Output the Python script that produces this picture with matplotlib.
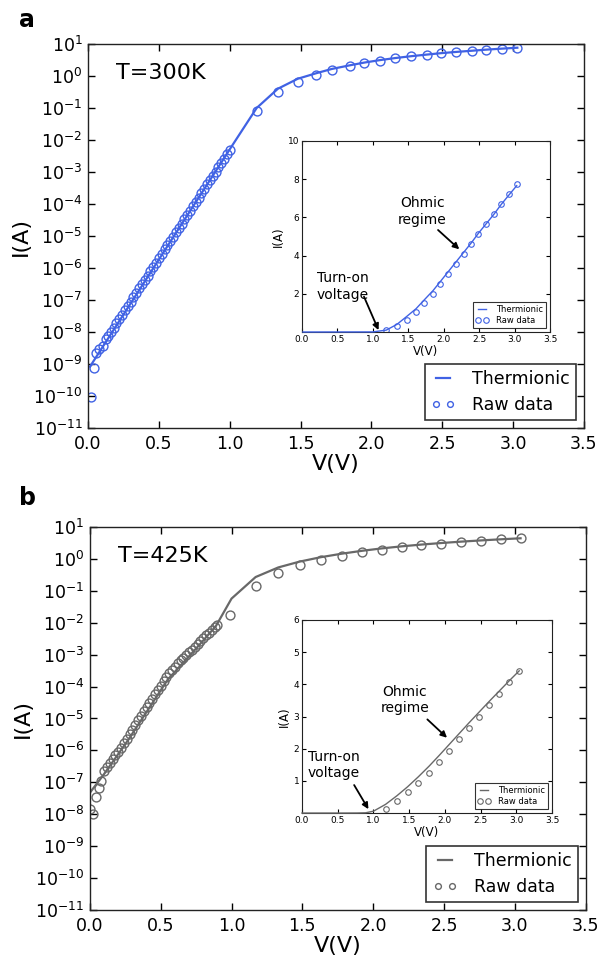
import numpy as np
import matplotlib
matplotlib.use('Agg')
import matplotlib.pyplot as plt
from matplotlib.ticker import NullLocator, FixedLocator

plt.rcParams['font.family'] = ['DejaVu Sans']
plt.rcParams['xtick.direction'] = 'in'
plt.rcParams['ytick.direction'] = 'in'
plt.rcParams['xtick.top'] = True
plt.rcParams['ytick.right'] = True
plt.rcParams['axes.linewidth'] = 1.0
plt.rcParams['axes.edgecolor'] = '#222222'

blue = '#4062e4'
gray = '#686868'

# ---- panel a, T=300K (raw data: V, log10 I) ----
v_raw_a = [0.02, 0.04, 0.054, 0.078, 0.108, 0.127,
           0.14, 0.16, 0.18, 0.20, 0.22, 0.24, 0.26, 0.28, 0.30, 0.32,
           0.34, 0.36, 0.38, 0.40, 0.42, 0.44, 0.46, 0.48, 0.50, 0.52,
           0.54, 0.56, 0.58, 0.60, 0.62, 0.64, 0.66, 0.68, 0.70, 0.72,
           0.74, 0.76, 0.78, 0.80, 0.82, 0.84, 0.86, 0.88, 0.90, 0.92,
           0.94, 0.96, 0.98, 1.00,
           1.19, 1.34, 1.48, 1.61, 1.72, 1.85, 1.95, 2.06, 2.17, 2.28,
           2.39, 2.49, 2.60, 2.71, 2.81, 2.92, 3.03]
log_raw_a = [-10.02, -9.12, -8.65, -8.52, -8.43, -8.22,
             -8.13, -7.99, -7.86, -7.73, -7.59, -7.46, -7.32, -7.18, -7.05, -6.91,
             -6.78, -6.64, -6.51, -6.37, -6.24, -6.10, -5.97, -5.83, -5.70, -5.56,
             -5.42, -5.29, -5.15, -5.02, -4.88, -4.75, -4.61, -4.48, -4.34, -4.21,
             -4.07, -3.94, -3.80, -3.66, -3.53, -3.39, -3.26, -3.12, -2.99, -2.85,
             -2.72, -2.58, -2.45, -2.30,
             -1.10, -0.51, -0.187, 0.029, 0.188, 0.303, 0.400, 0.480, 0.549, 0.613,
             0.662, 0.708, 0.751, 0.790, 0.825, 0.859, 0.888]
v_th_a = [0.014, 1.00, 1.19, 1.34, 1.48, 1.61, 1.72, 1.85, 1.95, 2.06,
          2.17, 2.28, 2.39, 2.49, 2.60, 2.71, 2.81, 2.92, 3.03]
i_th_a = [8.3e-10, 5.1e-3, 0.10, 0.40, 0.82, 1.22, 1.66, 2.17, 2.63, 3.14,
          3.65, 4.16, 4.67, 5.17, 5.67, 6.17, 6.67, 7.17, 7.66]

# ---- panel b, T=425K ----
v_raw_b = [0.0, 0.023, 0.04, 0.064, 0.078,
           0.10, 0.12, 0.14, 0.16, 0.18, 0.20, 0.22, 0.24, 0.26, 0.28,
           0.30, 0.32, 0.34, 0.36, 0.38, 0.40, 0.42, 0.44, 0.46, 0.48,
           0.50, 0.52, 0.54, 0.56, 0.58, 0.60, 0.62, 0.64, 0.66, 0.68,
           0.70, 0.72, 0.74, 0.76, 0.78, 0.80, 0.82, 0.84, 0.86, 0.88, 0.894,
           0.99,
           1.17, 1.33, 1.48, 1.63, 1.78, 1.92, 2.06, 2.20, 2.34, 2.48,
           2.62, 2.76, 2.90, 3.04]
log_raw_b = [-7.85, -8.00, -7.45, -7.19, -6.96,
             -6.66, -6.52, -6.39, -6.26, -6.15, -6.04, -5.91, -5.77, -5.64, -5.50,
             -5.35, -5.20, -5.05, -4.92, -4.78, -4.65, -4.51, -4.38, -4.24, -4.11,
             -3.97, -3.84, -3.70, -3.59, -3.48, -3.38, -3.27, -3.18, -3.09, -3.00,
             -2.92, -2.84, -2.76, -2.67, -2.58, -2.49, -2.40, -2.31, -2.22, -2.13, -2.07,
             -1.76,
             -0.854, -0.432, -0.194, -0.027, 0.100, 0.201, 0.288, 0.360, 0.423, 0.477,
             0.525, 0.569, 0.609, 0.645]
v_th_b = [0.0, 0.10, 0.27, 0.55, 0.77, 0.89, 1.00, 1.17, 1.33, 1.48, 1.63,
          1.78, 1.92, 2.06, 2.20, 2.34, 2.48, 2.62, 2.76, 2.90, 3.04]
i_th_b = [4.7e-8, 1.8e-7, 2.1e-6, 1.66e-4, 1.95e-3, 7.9e-3, 0.057, 0.27, 0.54,
          0.82, 1.13, 1.46, 1.79, 2.13, 2.47, 2.81, 3.14, 3.47, 3.79, 4.11, 4.42]

i_raw_a = [10 ** x for x in log_raw_a]
i_raw_b = [10 ** x for x in log_raw_b]

fig = plt.figure(figsize=(6.07, 9.59), dpi=100)
fig.patch.set_facecolor('white')


def main_panel(rect, v_raw, i_raw, v_th, i_th, color, temp):
    ax = fig.add_axes(rect)
    ax.plot(v_th, i_th, '-', color=color, lw=1.6, label='Thermionic')
    ax.plot(v_raw, i_raw, 'o', mfc='none', mec=color, mew=1.0, ms=6.4,
            label='Raw data')
    ax.set_yscale('log')
    ax.set_xlim(0, 3.5)
    ax.set_ylim(1e-11, 1e1)
    ax.yaxis.set_major_locator(FixedLocator([10.0 ** k for k in range(-11, 2)]))
    ax.yaxis.set_minor_locator(NullLocator())
    ax.set_xticks([0.0, 0.5, 1.0, 1.5, 2.0, 2.5, 3.0, 3.5])
    ax.set_xticklabels(['0.0', '0.5', '1.0', '1.5', '2.0', '2.5', '3.0', '3.5'])
    ax.tick_params(labelsize=12.5, length=5, width=1, pad=4)
    ax.tick_params(axis='x', pad=5)
    ax.set_xlabel('V(V)', fontsize=16, labelpad=1)
    ax.set_ylabel('I(A)', fontsize=16, labelpad=2)
    ax.text(0.056, 0.925, temp, transform=ax.transAxes, fontsize=16,
            va='center', ha='left')
    leg = ax.legend(loc='lower right', fontsize=12.5, numpoints=2,
                    handlelength=1.4, handletextpad=1.0, markerscale=0.65,
                    fancybox=False, borderaxespad=0.45, borderpad=0.35,
                    labelspacing=0.45)
    leg.get_frame().set_edgecolor('black')
    leg.get_frame().set_linewidth(1.2)
    return ax


def inset_panel(rect, v_raw, i_raw, v_th, i_th, color, ymax, yticks, notes):
    ax = fig.add_axes(rect)
    v_in = [v for v in v_raw if v > 1.1]
    i_in = [i for v, i in zip(v_raw, i_raw) if v > 1.1]
    ax.plot(v_th, i_th, '-', color=color, lw=1.0, label='Thermionic',
            zorder=3, clip_on=False)
    ax.plot(v_in, i_in, 'o', mfc='none', mec=color, mew=0.8, ms=4,
            label='Raw data')
    ax.set_xlim(0, 3.5)
    ax.set_ylim(0, ymax)
    ax.set_yticks(yticks)
    ax.set_xticks([0.0, 0.5, 1.0, 1.5, 2.0, 2.5, 3.0, 3.5])
    ax.set_xticklabels(['0.0', '0.5', '1.0', '1.5', '2.0', '2.5', '3.0', '3.5'])
    ax.tick_params(labelsize=6.5, length=3, width=0.8, pad=2)
    for s in ax.spines.values():
        s.set_linewidth(0.8)
    ax.set_xlabel('V(V)', fontsize=8.5, labelpad=1)
    ax.set_ylabel('I(A)', fontsize=8.5, labelpad=2)
    for txt, xy_text, xy_tail, xy_head in notes:
        ax.text(xy_text[0], xy_text[1], txt, fontsize=10, ha='center',
                va='center', linespacing=1.25)
        ax.annotate('', xy=xy_head, xytext=xy_tail,
                    arrowprops=dict(arrowstyle='-|>', color='black', lw=1.3,
                                    mutation_scale=9, shrinkA=0, shrinkB=0))
    leg = ax.legend(loc='lower right', fontsize=6, numpoints=2,
                    handlelength=1.6, handletextpad=0.9, fancybox=False,
                    borderaxespad=0.5, borderpad=0.3, labelspacing=0.3)
    leg.get_frame().set_edgecolor('black')
    leg.get_frame().set_linewidth(0.8)
    return ax


main_panel([0.145, 0.5537, 0.817, 0.4004], v_raw_a, i_raw_a, v_th_a, i_th_a,
           blue, 'T=300K')
inset_panel([0.4975, 0.6538, 0.4086, 0.1992], v_raw_a, i_raw_a, v_th_a, i_th_a,
            blue, 10, [2, 4, 6, 8, 10],
            [('Ohmic\nregime', (1.70, 6.3), (1.92, 5.34), (2.22, 4.33)),
             ('Turn-on\nvoltage', (0.58, 2.37), (0.875, 1.85), (1.08, 0.1))])

main_panel([0.148, 0.0511, 0.817, 0.3994], v_raw_b, i_raw_b, v_th_b, i_th_b,
           gray, 'T=425K')
inset_panel([0.4975, 0.1522, 0.412, 0.2013], v_raw_b, i_raw_b, v_th_b, i_th_b,
            gray, 6, [1, 2, 3, 4, 5, 6],
            [('Ohmic\nregime', (1.44, 3.51), (1.755, 2.91), (2.03, 2.34)),
             ('Turn-on\nvoltage', (0.44, 1.49), (0.73, 0.87), (0.93, 0.12))])

fig.text(0.0315, 0.979, 'a', fontsize=17, fontweight='bold', va='center')
fig.text(0.0315, 0.4807, 'b', fontsize=17, fontweight='bold', va='center')

fig.savefig('out.png', dpi=100, facecolor='white')
